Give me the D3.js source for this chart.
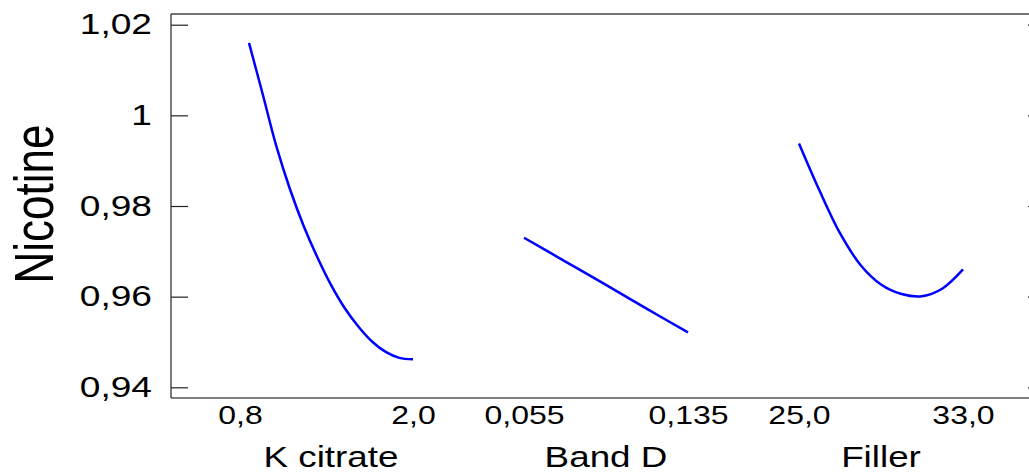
<!DOCTYPE html>
<html>
<head>
<meta charset="utf-8">
<script src="https://cdn.jsdelivr.net/npm/d3@7"></script>
<style>
  body { margin: 0; background: #fff; }
  text { font-family: "Liberation Sans", Arial, sans-serif; fill: #000; }
</style>
</head>
<body>
<div id="chart"></div>
<script>
// Data
const factors = ["K citrate", "Band D", "Filler"];
const yTicks = [0.94, 0.96, 0.98, 1, 1.02];

const kCitrateX = [0.8, 0.9, 1.0, 1.1, 1.2, 1.3, 1.4, 1.5, 1.6, 1.7, 1.8, 1.9, 2.0];
const kCitrateY = [1.0160, 1.0047, 0.9932, 0.9837, 0.9756, 0.9687, 0.9626, 0.9575, 0.9534, 0.9501, 0.9478, 0.9465, 0.9462];

const bandDX = [0.055, 0.075, 0.095, 0.115, 0.135];
const bandDY = [0.9730, 0.9678, 0.9626, 0.9573, 0.9521];

const fillerX = [25, 26, 27, 28, 29, 30, 31, 32, 33];
const fillerY = [0.9938, 0.9834, 0.9740, 0.9670, 0.9627, 0.9606, 0.9601, 0.9618, 0.9660];

const width = 1029;
const height = 474;
const frame = { left: 171, top: 14, bottom: 398, right: 1045 };

const svg = d3.select("#chart")
    .append("svg")
    .attr("width", width)
    .attr("height", height);

const locale = d3.formatLocale({ decimal: ",", thousands: ".", grouping: [3], currency: ["", ""] });

const panels = [
    { name: factors[0], xs: kCitrateX, ys: kCitrateY, fmt: locale.format(".1f"), shift: -9 },
    { name: factors[1], xs: bandDX, ys: bandDY, fmt: locale.format(".3f"), shift: 0 },
    { name: factors[2], xs: fillerX, ys: fillerY, fmt: locale.format(".1f"), shift: 0 }
];

// y scale shared by all panels
const y = d3.scaleLinear()
    .domain([0.94, 1.02])
    .range([387.3, 24.7]);

const commaFmt = v => String(v).replace(".", ",");

// frame lines
svg.append("line")
    .attr("x1", frame.left).attr("x2", width)
    .attr("y1", frame.top).attr("y2", frame.top)
    .style("stroke", "#444").style("stroke-width", 1.5);
svg.append("line")
    .attr("x1", frame.left).attr("x2", width)
    .attr("y1", frame.bottom).attr("y2", frame.bottom)
    .style("stroke", "#000").style("stroke-width", 1.2);
svg.append("line")
    .attr("x1", frame.left).attr("x2", frame.left)
    .attr("y1", frame.top).attr("y2", frame.bottom)
    .style("stroke", "#222").style("stroke-width", 1.2);

// left axis, ticks pointing inward
const yAxis = svg.append("g")
    .attr("transform", `translate(${frame.left},0)`)
    .call(d3.axisLeft(y).tickValues(yTicks).tickSizeInner(-17).tickSizeOuter(0).tickPadding(0).tickFormat(commaFmt));
yAxis.select(".domain").remove();
yAxis.selectAll(".tick line").style("stroke", "#222").style("stroke-width", 1.2);
yAxis.selectAll(".tick text")
    .attr("x", 0)
    .attr("transform", "translate(-19,0) scale(1.28,1)")
    .style("font-size", "29px");

// right axis, mostly off the picture
const yAxisR = svg.append("g")
    .attr("transform", `translate(${frame.right},0)`)
    .call(d3.axisLeft(y).tickValues(yTicks).tickSize(17).tickFormat(""));
yAxisR.select(".domain").remove();
yAxisR.selectAll(".tick line").style("stroke", "#222").style("stroke-width", 1.2);

// y title
svg.append("text")
    .attr("transform", "translate(53,204) scale(1.25,1) rotate(-90)")
    .attr("text-anchor", "middle")
    .style("font-size", "44px")
    .text("Nicotine");

const line = d3.line().curve(d3.curveCatmullRom);

panels.forEach((p, i) => {
    const x0 = 249 + i * 275;
    const x = d3.scaleLinear()
        .domain(d3.extent(p.xs))
        .range([x0, x0 + 164]);

    const ax = svg.append("g")
        .attr("transform", `translate(0,${frame.bottom})`)
        .call(d3.axisBottom(x).tickValues(x.domain()).tickSize(0).tickPadding(8).tickFormat(p.fmt));
    ax.select(".domain").remove();
    ax.selectAll(".tick text")
        .attr("transform", (d, j) => `translate(${j === 0 ? p.shift : 0},0) scale(1.28,1)`)
        .style("font-size", "25px");

    svg.append("text")
        .attr("transform", `translate(${(x.range()[0] + x.range()[1]) / 2},467) scale(1.27,1)`)
        .attr("text-anchor", "middle")
        .style("font-size", "29px")
        .text(p.name);

    svg.append("path")
        .datum(p.xs.map((v, j) => [x(v), y(p.ys[j])]))
        .attr("d", line)
        .style("fill", "none")
        .style("stroke", "#0000ff")
        .style("stroke-width", 2.5);
});
</script>
</body>
</html>
